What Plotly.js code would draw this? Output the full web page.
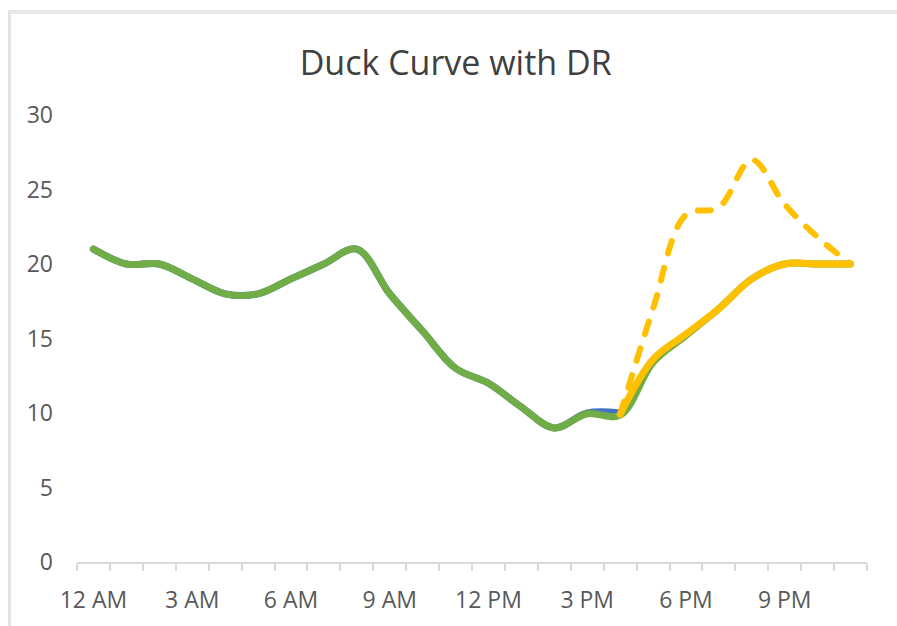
<!DOCTYPE html>
<html>
<head>
<meta charset="utf-8">
<script src="https://cdn.plot.ly/plotly-3.0.1.min.js"></script>
<style>
  html, body { margin: 0; padding: 0; background: #ffffff; }
  #frame { position: absolute; left: 8px; top: 10px; width: 900px; height: 630px;
           border-left: 3px solid #e4e4e4; border-top: 4px solid #e8e8e8; box-sizing: border-box; }
  #chart { position: absolute; left: 0; top: 0; width: 897px; height: 626px; }
  .scatterlayer path.js-line { stroke-linecap: round; stroke-linejoin: round; }
</style>
</head>
<body>
<div id="frame"></div>
<div id="chart"></div>
<script>
// Categories (hour of day)
const hours = ["12 AM","1 AM","2 AM","3 AM","4 AM","5 AM","6 AM","7 AM","8 AM","9 AM","10 AM","11 AM",
               "12 PM","1 PM","2 PM","3 PM","4 PM","5 PM","6 PM","7 PM","8 PM","9 PM","10 PM","11 PM"];
// Tick labels shown on the axis
const tickLabels = ["12 AM","3 AM","6 AM","9 AM","12 PM","3 PM","6 PM","9 PM"];

// Series values (null = no point)
const baseLoad   = [21, 20, 20, 19, 18, 18, 19, 20, 21, 18, 15.5, 13, 12, 10.4, 9, 10, 10,
                    null, null, null, null, null, null, null];
const greenLoad  = [21, 20, 20, 19, 18, 18, 19, 20, 21, 18, 15.5, 13, 12, 10.4, 9, 9.95, 9.85,
                    13.4, 15.2, 17, 19, 20, 20, 20];
const withDR     = [null, null, null, null, null, null, null, null, null, null, null, null,
                    null, null, null, null, 9.9, 13.6, 15.3, 17, 19, 20, 20, 20];
const withoutDR  = [null, null, null, null, null, null, null, null, null, null, null, null,
                    null, null, null, null, 9.9, 17, 23.3, 23.8, 27, 24, 21.8, 20];

const xIdx = hours.map((h, i) => i);
const tickIdx = tickLabels.map(t => hours.indexOf(t));

const common = { x: xIdx, type: 'scatter', mode: 'lines', hoverinfo: 'skip', showlegend: false,
                 connectgaps: false };

const traces = [
  Object.assign({}, common, { y: baseLoad,  line: { color: '#4472C4', width: 7, shape: 'spline', smoothing: 1 } }),
  Object.assign({}, common, { y: greenLoad, line: { color: '#70AD47', width: 7, shape: 'spline', smoothing: 1 } }),
  Object.assign({}, common, { y: withoutDR, line: { color: '#FFC000', width: 6, shape: 'spline', smoothing: 1, dash: '13px,15px' } }),
  Object.assign({}, common, { y: withDR,    line: { color: '#FFC000', width: 7, shape: 'spline', smoothing: 1 } })
];

const layout = {
  width: 897, height: 626,
  margin: { l: 77, r: 30, t: 115, b: 64 },
  paper_bgcolor: 'rgba(0,0,0,0)',
  plot_bgcolor: 'rgba(0,0,0,0)',
  font: { family: 'Open Sans, sans-serif', color: '#595959' },
  title: {
    text: 'Duck Curve with DR',
    font: { family: 'Open Sans, sans-serif', size: 34, color: '#404040' },
    x: 0.508, xanchor: 'center', y: 0.9, yanchor: 'middle'
  },
  xaxis: {
    range: [-0.5, 23.5],
    tickmode: 'array', tickvals: tickIdx, ticktext: tickLabels,
    ticks: '', showgrid: false, zeroline: false,
    showline: true, linecolor: '#d9d9d9', linewidth: 2,
    tickfont: { size: 23, color: '#595959' },
    ticklabelstandoff: 16,
    minor: { tickmode: 'linear', tick0: -0.5, dtick: 1, ticks: 'outside', ticklen: 7,
             tickcolor: '#d9d9d9', tickwidth: 2, showgrid: false },
    fixedrange: true
  },
  yaxis: {
    range: [0, 30],
    tickmode: 'array', tickvals: [0, 5, 10, 15, 20, 25, 30],
    ticks: '', showgrid: false, zeroline: false, showline: false,
    tickfont: { size: 23, color: '#595959' },
    ticklabelstandoff: 23,
    fixedrange: true
  }
};

Plotly.newPlot('chart', traces, layout, { displayModeBar: false, staticPlot: true });
</script>
</body>
</html>
